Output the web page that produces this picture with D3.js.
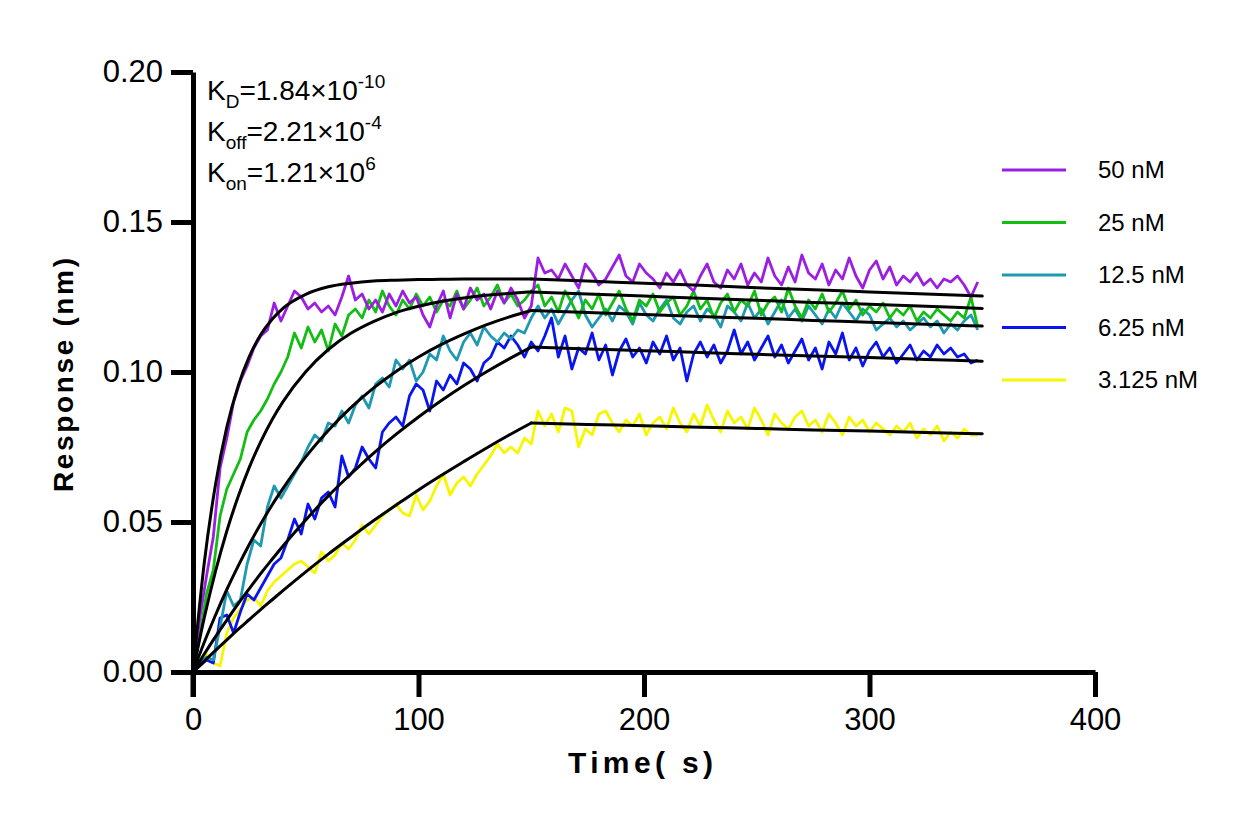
<!DOCTYPE html>
<html><head><meta charset="utf-8">
<script src="https://cdn.jsdelivr.net/npm/d3@7"></script>
<style>body{margin:0;background:#fff}svg{display:block}text{font-family:"Liberation Sans",Arial,sans-serif}</style>
</head><body><svg id="c" width="1249" height="825"></svg>
<script>
const seriesNames = ["50 nM","25 nM","12.5 nM","6.25 nM","3.125 nM"];
const seriesColors = ["#9b1fe0","#13bd13","#1f99b2","#0a14ee","#f6f600"];
const xTicks = [0,100,200,300,400];
const yTicks = [0,0.05,0.10,0.15,0.20];
const time = d3.range(0, 349, 3);
const fitTime = [0,5,10,15,20,25,30,35,40,50,60,70,80,90,100,110,120,130,140,150,175,200,225,250,275,300,325,350];
const switchTime = 150;

const d50 = [0.000,0.018,0.032,0.045,0.068,0.078,0.090,0.097,0.102,0.108,
0.112,0.114,0.123,0.117,0.122,0.127,0.125,0.121,0.123,0.120,
0.122,0.119,0.125,0.132,0.124,0.126,0.121,0.124,0.120,0.126,
0.122,0.127,0.123,0.125,0.119,0.115,0.122,0.127,0.118,0.126,
0.121,0.128,0.124,0.126,0.121,0.127,0.123,0.128,0.124,0.118,
0.122,
0.138,0.133,0.134,0.131,0.136,0.132,0.128,0.136,0.133,0.129,
0.131,0.135,0.139,0.132,0.130,0.136,0.133,0.131,0.128,0.133,
0.130,0.134,0.129,0.127,0.132,0.136,0.130,0.128,0.134,0.131,
0.136,0.129,0.133,0.130,0.138,0.132,0.129,0.135,0.130,0.139,
0.133,0.131,0.136,0.129,0.134,0.131,0.138,0.132,0.128,0.134,
0.137,0.131,0.135,0.129,0.132,0.130,0.133,0.129,0.131,0.128,
0.131,0.130,0.132,0.129,0.125,0.130];
const d25 = [0.000,0.012,0.026,0.034,0.052,0.061,0.066,0.071,0.080,0.084,
0.087,0.091,0.096,0.100,0.105,0.113,0.108,0.115,0.110,0.114,
0.107,0.116,0.112,0.119,0.121,0.118,0.124,0.120,0.127,0.122,
0.119,0.124,0.121,0.126,0.122,0.125,0.120,0.124,0.122,0.127,
0.121,0.124,0.128,0.122,0.125,0.129,0.123,0.126,0.122,0.124,
0.127,
0.129,0.122,0.125,0.120,0.127,0.123,0.118,0.124,0.121,0.126,
0.119,0.123,0.127,0.121,0.117,0.124,0.122,0.126,0.120,0.123,
0.125,0.119,0.122,0.127,0.121,0.124,0.118,0.123,0.126,0.120,
0.124,0.122,0.127,0.119,0.123,0.125,0.120,0.128,0.122,0.118,
0.124,0.121,0.126,0.120,0.123,0.127,0.121,0.124,0.119,0.122,
0.120,0.123,0.118,0.121,0.119,0.122,0.117,0.120,0.118,0.121,
0.119,0.117,0.120,0.118,0.125,0.115];
const d125 = [0.000,0.003,0.005,0.004,0.015,0.027,0.022,0.024,0.036,0.044,
0.042,0.055,0.062,0.058,0.062,0.066,0.070,0.075,0.079,0.077,
0.083,0.082,0.087,0.083,0.089,0.092,0.088,0.096,0.098,0.095,
0.104,0.101,0.104,0.097,0.100,0.106,0.104,0.112,0.107,0.104,
0.110,0.113,0.109,0.115,0.112,0.110,0.113,0.111,0.114,0.113,
0.118,
0.122,0.118,0.121,0.116,0.120,0.124,0.127,0.119,0.115,0.118,
0.121,0.117,0.122,0.120,0.116,0.123,0.119,0.117,0.121,0.124,
0.118,0.116,0.120,0.122,0.117,0.121,0.119,0.115,0.122,0.120,
0.117,0.123,0.118,0.121,0.116,0.120,0.124,0.118,0.121,0.117,
0.122,0.119,0.116,0.121,0.118,0.123,0.120,0.117,0.121,0.119,
0.114,0.116,0.118,0.115,0.117,0.114,0.116,0.118,0.115,0.117,
0.113,0.116,0.114,0.117,0.119,0.114];
const d625 = [0.000,0.002,0.004,0.003,0.018,0.019,0.013,0.020,0.026,0.024,
0.028,0.032,0.036,0.038,0.044,0.051,0.046,0.056,0.051,0.058,
0.060,0.055,0.072,0.065,0.068,0.075,0.071,0.068,0.080,0.083,
0.085,0.082,0.092,0.096,0.094,0.087,0.097,0.094,0.099,0.096,
0.103,0.101,0.097,0.103,0.105,0.110,0.108,0.112,0.109,0.105,
0.110,
0.107,0.112,0.118,0.105,0.112,0.101,0.108,0.106,0.113,0.104,
0.109,0.099,0.107,0.111,0.105,0.108,0.103,0.110,0.106,0.112,
0.104,0.108,0.097,0.106,0.110,0.105,0.109,0.103,0.107,0.114,
0.106,0.110,0.104,0.108,0.112,0.105,0.109,0.103,0.107,0.111,
0.104,0.108,0.101,0.110,0.106,0.113,0.104,0.108,0.102,0.107,
0.110,0.105,0.108,0.103,0.106,0.109,0.104,0.107,0.105,0.109,
0.106,0.108,0.105,0.106,0.103,0.104];
const d3125 = [0.000,0.004,0.006,0.003,0.002,0.013,0.018,0.021,0.024,0.025,
0.022,0.027,0.030,0.032,0.034,0.036,0.037,0.035,0.033,0.040,
0.037,0.039,0.043,0.041,0.044,0.049,0.046,0.049,0.052,0.054,
0.056,0.053,0.052,0.059,0.054,0.057,0.062,0.066,0.059,0.063,
0.065,0.062,0.066,0.069,0.072,0.076,0.073,0.075,0.073,0.078,
0.076,
0.087,0.082,0.086,0.080,0.088,0.087,0.075,0.081,0.079,0.086,
0.087,0.083,0.080,0.084,0.082,0.086,0.079,0.083,0.085,0.081,
0.088,0.083,0.080,0.086,0.082,0.089,0.084,0.080,0.087,0.083,
0.085,0.081,0.088,0.084,0.079,0.086,0.083,0.081,0.085,0.087,
0.082,0.084,0.080,0.086,0.083,0.079,0.085,0.082,0.084,0.080,
0.083,0.081,0.079,0.082,0.080,0.083,0.078,0.081,0.079,0.082,
0.077,0.080,0.078,0.081,0.079,0.079];

const f50 = [0,0.0364,0.0626,0.0816,0.0953,0.1052,0.1124,0.1175,0.1213,0.1259,0.1284,0.1296,0.1303,0.1306,0.1308,0.1309,0.1310,0.1310,0.1310,0.1310,0.1303,0.1296,0.1289,0.1281,0.1274,0.1267,0.1260,0.1253];
const f25 = [0,0.0181,0.0336,0.0470,0.0584,0.0683,0.0767,0.0840,0.0902,0.1001,0.1075,0.1129,0.1168,0.1198,0.1219,0.1235,0.1247,0.1256,0.1262,0.1267,0.1260,0.1253,0.1246,0.1239,0.1232,0.1226,0.1219,0.1212];
const f125 = [0,0.0099,0.0190,0.0275,0.0353,0.0426,0.0493,0.0556,0.0613,0.0717,0.0805,0.0881,0.0946,0.1002,0.1050,0.1091,0.1126,0.1157,0.1183,0.1205,0.1198,0.1192,0.1185,0.1179,0.1172,0.1166,0.1159,0.1153];
const f625 = [0,0.0060,0.0118,0.0173,0.0227,0.0278,0.0328,0.0375,0.0421,0.0507,0.0587,0.0660,0.0729,0.0792,0.0850,0.0904,0.0954,0.1000,0.1043,0.1083,0.1077,0.1071,0.1065,0.1059,0.1053,0.1048,0.1042,0.1036];
const f3125 = [0,0.0036,0.0072,0.0107,0.0142,0.0175,0.0208,0.0240,0.0272,0.0334,0.0393,0.0449,0.0504,0.0556,0.0607,0.0655,0.0701,0.0746,0.0789,0.0830,0.0825,0.0821,0.0816,0.0812,0.0807,0.0803,0.0798,0.0794];

const kinetics = [
  {k:"K", sub:"D", val:"=1.84×10", exp:"-10"},
  {k:"K", sub:"off", val:"=2.21×10", exp:"-4"},
  {k:"K", sub:"on", val:"=1.21×10", exp:"6"}
];

const dataSeries = [d50, d25, d125, d625, d3125];
const fitSeries = [f50, f25, f125, f625, f3125];

const svg = d3.select("#c");
svg.append("rect").attr("width",1249).attr("height",825).attr("fill","#fff");
const x = d3.scaleLinear().domain([0,400]).range([193,1095]);
const y = d3.scaleLinear().domain([0,0.20]).range([672,72]);

const line = d3.line().x(d=>x(d[0])).y(d=>y(d[1]));
const fitLine = d3.line().x(d=>x(d[0])).y(d=>y(d[1])).curve(d3.curveMonotoneX);

const drawOrder = [4,3,2,1,0];
drawOrder.forEach(i=>{
  svg.append("path").datum(time.map((t,j)=>[t,dataSeries[i][j]]))
    .attr("d", line).attr("fill","none").attr("stroke",seriesColors[i])
    .attr("stroke-width",2.8).attr("stroke-linejoin","round");
});
fitSeries.forEach(f=>{
  const pts = fitTime.map((t,j)=>[t,f[j]]);
  const assoc = pts.filter(p=>p[0]<=switchTime);
  const dissoc = pts.filter(p=>p[0]>=switchTime);
  [assoc, dissoc].forEach(seg=>{
    svg.append("path").datum(seg)
      .attr("d", fitLine).attr("fill","none").attr("stroke","#000")
      .attr("stroke-width",3).attr("stroke-linecap","round");
  });
});

// axes
const gx = svg.append("g").attr("transform","translate(0,672)")
  .call(d3.axisBottom(x).tickValues(xTicks).tickSize(25).tickSizeOuter(0).tickPadding(11).tickFormat(d3.format("d")));
const gy = svg.append("g").attr("transform","translate(193,0)")
  .call(d3.axisLeft(y).tickValues(yTicks).tickSize(22).tickSizeOuter(0).tickPadding(8).tickFormat(d3.format(".2f")));
[gx,gy].forEach(g=>{
  g.select(".domain").attr("stroke","#000").attr("stroke-width",5);
  g.selectAll(".tick line").attr("stroke","#000").attr("stroke-width",5);
  g.selectAll(".tick text").attr("fill","#000").style("font-size","31px").style("font-family",'"Liberation Sans",Arial,sans-serif');
});
svg.append("line").attr("x1",193).attr("x2",193).attr("y1",672).attr("y2",697).attr("stroke","#000").attr("stroke-width",5);

// axis titles
svg.append("text").attr("x",568).attr("y",773).attr("textLength",145).attr("lengthAdjust","spacing")
  .style("font-size","30px").style("font-weight","bold").text("Time( s)");
svg.append("text").attr("transform","translate(73,375) rotate(-90)").attr("text-anchor","middle")
  .attr("textLength",234).attr("lengthAdjust","spacing")
  .style("font-size","28px").style("font-weight","bold").text("Response (nm)");

// kinetics annotation
kinetics.forEach((k,i)=>{
  const t = svg.append("text").attr("x",207).attr("y",100+i*41).style("font-size","28px");
  t.append("tspan").text(k.k);
  t.append("tspan").attr("dy",8).style("font-size","19px").text(k.sub);
  t.append("tspan").attr("dy",-8).text(k.val);
  t.append("tspan").attr("dy",-12).style("font-size","19px").text(k.exp);
});

// legend
seriesNames.forEach((n,i)=>{
  const yy = 170 + i*52.5;
  svg.append("line").attr("x1",1002).attr("x2",1066).attr("y1",yy).attr("y2",yy)
    .attr("stroke",seriesColors[i]).attr("stroke-width",3);
  svg.append("text").attr("x",1098).attr("y",yy+8).style("font-size","24px").text(n);
});
</script></body></html>
